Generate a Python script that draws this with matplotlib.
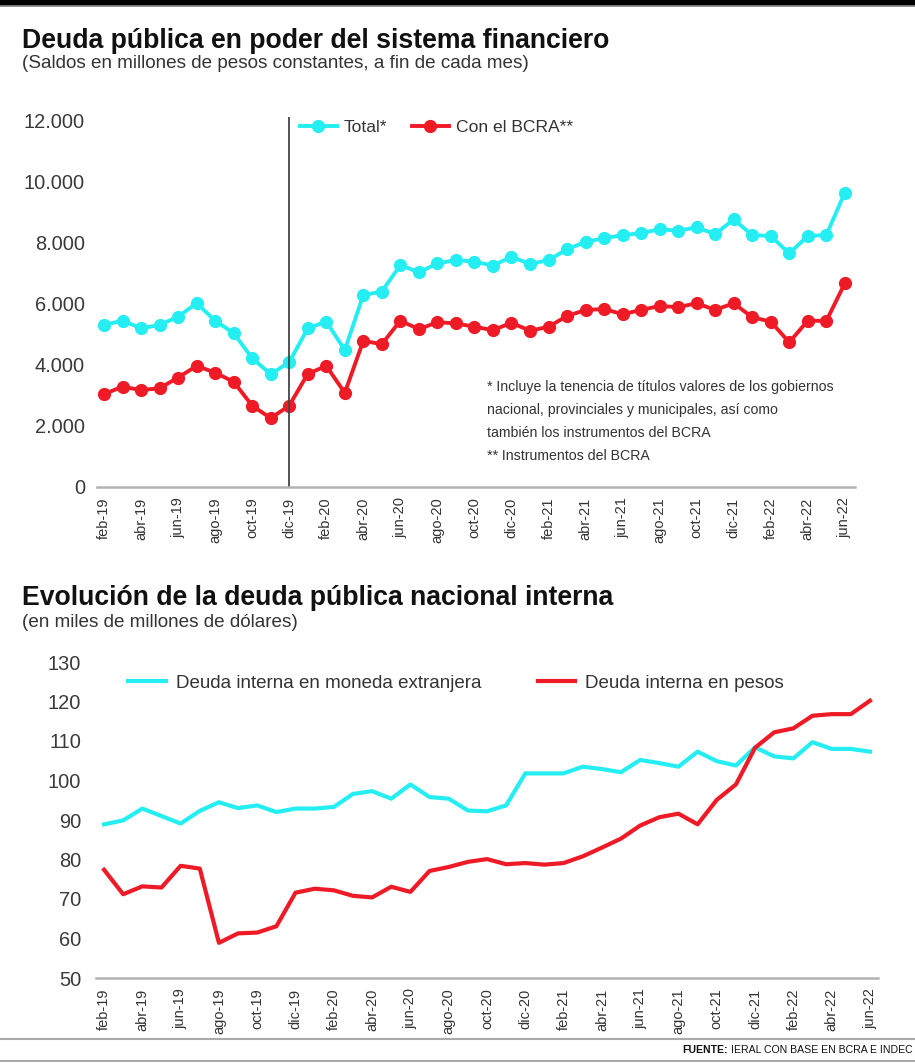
import matplotlib.pyplot as plt
from matplotlib.patches import Rectangle
from matplotlib.lines import Line2D

# datos
meses_abr = ['ene', 'feb', 'mar', 'abr', 'may', 'jun', 'jul', 'ago', 'sep', 'oct', 'nov', 'dic']
meses = [f'{meses_abr[m % 12]}-{19 + m // 12}' for m in range(1, 42)]  # feb-19 .. jun-22

total = [5300, 5440, 5190, 5300, 5570, 6010, 5440, 5030, 4210, 3690,
         4080, 5190, 5410, 4480, 6280, 6390, 7260, 7020, 7310, 7420,
         7370, 7240, 7530, 7290, 7420, 7770, 8020, 8130, 8240, 8300,
         8430, 8380, 8490, 8270, 8750, 8240, 8210, 7640, 8210, 8240, 9620]
con_bcra = [3040, 3280, 3170, 3230, 3580, 3960, 3740, 3440, 2660, 2250,
            2660, 3700, 3960, 3080, 4780, 4670, 5440, 5160, 5390, 5350,
            5240, 5130, 5370, 5110, 5240, 5590, 5790, 5820, 5650, 5790,
            5920, 5880, 6010, 5790, 6010, 5550, 5410, 4730, 5440, 5430, 6660]

moneda_ext = [88.9, 89.9, 92.9, 91.0, 89.1, 92.3, 94.5, 93.0, 93.7, 92.0,
              92.9, 92.9, 93.3, 96.6, 97.3, 95.4, 99.0, 95.8, 95.4, 92.4,
              92.2, 93.7, 101.8, 101.8, 101.8, 103.5, 102.9, 102.1, 105.2, 104.4,
              103.5, 107.3, 104.9, 103.8, 108.4, 106.1, 105.6, 109.7, 108.0, 108.0, 107.3]
pesos = [77.4, 71.2, 73.2, 72.9, 78.4, 77.7, 58.9, 61.3, 61.5, 63.1,
         71.6, 72.6, 72.2, 70.8, 70.4, 73.1, 71.8, 77.1, 78.1, 79.4,
         80.1, 78.8, 79.1, 78.7, 79.1, 80.8, 83.0, 85.3, 88.6, 90.7,
         91.6, 88.9, 95.1, 99.0, 108.3, 112.2, 113.2, 116.4, 116.8, 116.8, 120.2]

ticks_top = [0, 2000, 4000, 6000, 8000, 10000, 12000]
ticks_bot = [50, 60, 70, 80, 90, 100, 110, 120, 130]
nota = ['* Incluye la tenencia de títulos valores de los gobiernos',
        'nacional, provinciales y municipales, así como',
        'también los instrumentos del BCRA',
        '** Instrumentos del BCRA']

CYAN = '#25EEF2'
RED = '#EE1B27'
TXT = '#333333'

plt.rcParams['font.family'] = ['Liberation Sans', 'DejaVu Sans']

W, H = 915, 1063
fig = plt.figure(figsize=(W / 100, H / 100), dpi=100)


def fx(px):
    return px / W


def fy(py):
    return 1 - py / H


# franja negra superior y líneas inferiores
fig.add_artist(Rectangle((0, fy(5)), 1, 5 / H, transform=fig.transFigure, color='black'))
fig.add_artist(Line2D([0, 1], [fy(6), fy(6)], transform=fig.transFigure, color='#888888', lw=1.2))
fig.add_artist(Line2D([0, 1], [fy(1039), fy(1039)], transform=fig.transFigure, color='#aaaaaa', lw=1.5))
fig.add_artist(Line2D([0, 1], [fy(1061), fy(1061)], transform=fig.transFigure, color='#aaaaaa', lw=1.5))

# títulos
fig.text(fx(22), fy(48), 'Deuda pública en poder del sistema financiero',
         fontsize=19.2, fontweight='bold', color='#111111', va='baseline')
fig.text(fx(22), fy(68), '(Saldos en millones de pesos constantes, a fin de cada mes)',
         fontsize=13.6, color=TXT, va='baseline')
fig.text(fx(22), fy(605), 'Evolución de la deuda pública nacional interna',
         fontsize=19.2, fontweight='bold', color='#111111', va='baseline')
fig.text(fx(22), fy(627), '(en miles de millones de dólares)',
         fontsize=13.6, color=TXT, va='baseline')

renderer = fig.canvas.get_renderer()
fuente = fig.text(fx(913), fy(1050), 'IERAL CON BASE EN BCRA E INDEC', fontsize=7.6,
                  color='#111111', va='center', ha='right')
x0 = fuente.get_window_extent(renderer).x0
fig.text((x0 - 4) / W, fy(1050), 'FUENTE:', fontsize=7.6, fontweight='bold',
         color='#111111', va='center', ha='right')

x = list(range(len(meses)))

# --- gráfico superior ---
ax1 = fig.add_axes([fx(97), fy(487), fx(855 - 97), (487 - 117) / H])
ax1.plot(x, total, color=CYAN, lw=2.8, marker='o', ms=8.5, label='Total*')
ax1.plot(x, con_bcra, color=RED, lw=2.8, marker='o', ms=8.5, label='Con el BCRA**')
ax1.axvline(10, color='#444444', lw=1.3)
ax1.set_xlim(-0.38, 40.55)
ax1.set_ylim(0, 12100)
ax1.set_yticks(ticks_top)
ax1.set_yticklabels([f'{t:,}'.replace(',', '.') for t in ticks_top])
ax1.set_xticks(x[::2])
ax1.set_xticklabels(meses[::2], rotation=90, fontsize=10.5, color=TXT)
ax1.legend(loc='center left', bbox_to_anchor=(fx(300), fy(127)), bbox_transform=fig.transFigure,
           ncol=2, frameon=False, fontsize=12.6, handlelength=2.1, handletextpad=0.4,
           columnspacing=1.4, borderpad=0, borderaxespad=0, labelcolor=TXT)
for i, linea in enumerate(nota):
    fig.text(fx(487), fy(387 + i * 23), linea, fontsize=10.2, color=TXT, va='center')

# --- gráfico inferior ---
ax2 = fig.add_axes([fx(96), fy(978), fx(878 - 96), (978 - 662) / H])
ax2.plot(x, moneda_ext, color=CYAN, lw=3, label='Deuda interna en moneda extranjera')
ax2.plot(x, pesos, color=RED, lw=3, label='Deuda interna en pesos')
ax2.set_xlim(-0.42, 40.42)
ax2.set_ylim(50, 130)
ax2.set_yticks(ticks_bot)
ax2.set_xticks(x[::2])
ax2.set_xticklabels(meses[::2], rotation=90, fontsize=10.5, color=TXT)
ax2.legend(loc='center left', bbox_to_anchor=(fx(128), fy(683)), bbox_transform=fig.transFigure,
           ncol=2, frameon=False, fontsize=13.5, handlelength=2.0, handletextpad=0.55,
           columnspacing=3.0, borderpad=0, borderaxespad=0, labelcolor=TXT)

for ax, pad in ((ax1, 8.6), (ax2, 10.8)):
    for s in ('top', 'right', 'left'):
        ax.spines[s].set_visible(False)
    ax.spines['bottom'].set_color('#b3b3b3')
    ax.spines['bottom'].set_linewidth(1.8)
    ax.tick_params(axis='both', length=0)
    ax.tick_params(axis='y', labelsize=14.4, labelcolor='#3a3a3a', pad=pad)
    ax.tick_params(axis='x', pad=7.5)

fig.savefig('out.png', dpi=100)
